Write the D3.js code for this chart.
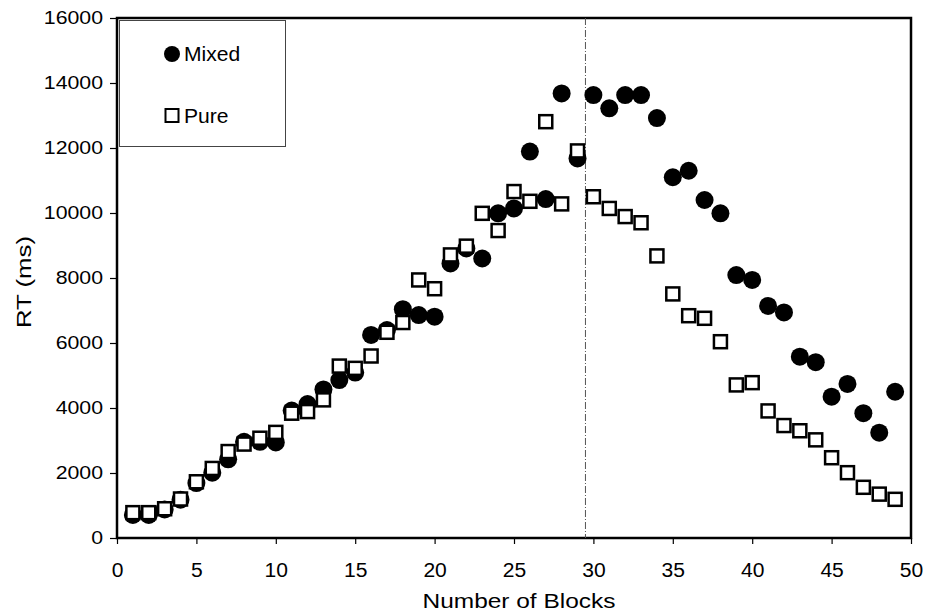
<!DOCTYPE html>
<html lang="en">
<head>
    <meta charset="UTF-8">
    <title></title>
    <style type="text/css">
        html, body { padding:0; margin:0; background:#fff; }
        text { font-family: "Liberation Sans", Arial, sans-serif; fill:#000; }
    </style>
</head>
<body>
<script src="https://d3js.org/d3.v7.min.js"></script>
<script>
    // data
    var blocks = [1, 2, 3, 4, 5, 6, 7, 8, 9, 10, 11, 12, 13, 14, 15, 16, 17, 18, 19, 20,
                  21, 22, 23, 24, 25, 26, 27, 28, 29, 30, 31, 32, 33, 34, 35, 36, 37, 38, 39, 40,
                  41, 42, 43, 44, 45, 46, 47, 48, 49];
    var mixed = [710, 710, 880, 1180, 1690, 2010, 2420, 2960, 2960, 2940,
                 3920, 4120, 4570, 4860, 5090, 6250, 6400, 7040, 6860, 6810,
                 8450, 8910, 8600, 9990, 10140, 11890, 10430, 13680, 11680, 13630,
                 13220, 13630, 13630, 12920, 11100, 11300, 10400, 9990, 8090, 7940,
                 7140, 6940, 5580, 5410, 4350, 4740, 3840, 3240, 4500];
    var pure = [780, 780, 900, 1200, 1730, 2140, 2660, 2890, 3070, 3250,
                3840, 3890, 4250, 5290, 5220, 5600, 6330, 6630, 7940, 7670,
                8710, 8980, 9990, 9460, 10660, 10360, 12810, 10280, 11910, 10500,
                10140, 9890, 9700, 8680, 7510, 6840, 6760, 6040, 4710, 4780,
                3910, 3460, 3300, 3020, 2470, 2010, 1560, 1350, 1190];
    var xTicks = [0, 5, 10, 15, 20, 25, 30, 35, 40, 45, 50];
    var yTicks = [0, 2000, 4000, 6000, 8000, 10000, 12000, 14000, 16000];
    var splitAt = 29.5;

    var chart = {};

    chart.options = {
        width: 925,
        height: 611,
        left: 117,
        right: 911,
        top: 18,
        bottom: 538
    };

    // widen text a little, the original glyphs are stretched
    chart.stretch = function(sel, k) {
        sel.each(function() {
            var w = this.getComputedTextLength();
            d3.select(this).attr('textLength', w * k).attr('lengthAdjust', 'spacingAndGlyphs');
        });
    };

    chart.init = function() {
        var o = this.options;
        this.svg = d3.select('body').append('svg')
          .attr('width', o.width)
          .attr('height', o.height);

        this.x = d3.scaleLinear().domain([0, 50]).range([o.left, o.right]);
        this.y = d3.scaleLinear().domain([0, 16000]).range([o.bottom, o.top]);

        this.renderAxes();
        this.renderSplit();
        this.renderPoints();
        this.renderLegend();
    };

    chart.renderAxes = function() {
        var o = this.options, svg = this.svg;

        var xAxis = d3.axisBottom(this.x).tickValues(xTicks).tickFormat(d3.format('d'))
                      .tickSize(6).tickSizeOuter(0);
        var gx = svg.append('g')
          .attr('transform', 'translate(0,' + o.bottom + ')')
          .call(xAxis);
        gx.selectAll('text').attr('y', 39).attr('dy', 0).attr('font-size', 19.5).attr('font-family', null);
        gx.selectAll('.tick line').attr('stroke', '#000').attr('stroke-width', 1.2);
        gx.select('.domain').remove();
        this.stretch(gx.selectAll('text'), 1.08);

        var yAxis = d3.axisLeft(this.y).tickValues(yTicks).tickFormat(d3.format('d'))
                      .tickSize(7).tickSizeOuter(0);
        var gy = svg.append('g')
          .attr('transform', 'translate(' + o.left + ',0)')
          .call(yAxis);
        gy.selectAll('text').attr('x', -14).attr('font-size', 18.5).attr('font-family', null);
        gy.selectAll('.tick line').attr('stroke', '#000').attr('stroke-width', 1.2);
        gy.select('.domain').remove();
        this.stretch(gy.selectAll('text'), 1.15);

        // plot frame
        svg.append('rect')
          .attr('x', o.left).attr('y', o.top)
          .attr('width', o.right - o.left).attr('height', o.bottom - o.top)
          .attr('fill', 'none').attr('stroke', '#000').attr('stroke-width', 2.5);

        svg.append('text')
          .attr('x', (o.left + o.right) / 2 + 5).attr('y', 608)
          .attr('text-anchor', 'middle').attr('font-size', 21)
          .attr('textLength', 193).attr('lengthAdjust', 'spacingAndGlyphs')
          .text('Number of Blocks');

        svg.append('text')
          .attr('transform', 'translate(31,' + ((o.top + o.bottom) / 2 + 4) + ') rotate(-90)')
          .attr('text-anchor', 'middle').attr('font-size', 21)
          .attr('textLength', 92).attr('lengthAdjust', 'spacingAndGlyphs')
          .text('RT (ms)');
    };

    chart.renderSplit = function() {
        var o = this.options;
        this.svg.append('line')
          .attr('x1', this.x(splitAt)).attr('x2', this.x(splitAt))
          .attr('y1', o.top).attr('y2', o.bottom)
          .attr('stroke', '#555').attr('stroke-width', 1)
          .attr('stroke-dasharray', '7,2,1,2');
    };

    chart.renderPoints = function() {
        var x = this.x, y = this.y;

        this.svg.append('g').selectAll('circle')
          .data(blocks)
          .enter().append('circle')
          .attr('cx', function(d) { return x(d); })
          .attr('cy', function(d, i) { return y(mixed[i]); })
          .attr('r', 9)
          .attr('fill', '#000');

        var s = 13;
        this.svg.append('g').selectAll('rect')
          .data(blocks)
          .enter().append('rect')
          .attr('x', function(d) { return x(d) - s / 2; })
          .attr('y', function(d, i) { return y(pure[i]) - s / 2; })
          .attr('width', s).attr('height', s)
          .attr('fill', '#fff').attr('stroke', '#000').attr('stroke-width', 2.5);
    };

    chart.renderLegend = function() {
        var g = this.svg.append('g');
        g.append('rect')
          .attr('x', 119.5).attr('y', 20.5).attr('width', 166).attr('height', 126)
          .attr('fill', '#fff').attr('stroke', '#444').attr('stroke-width', 1);

        g.append('circle').attr('cx', 172).attr('cy', 54).attr('r', 8).attr('fill', '#000');
        var t1 = g.append('text').attr('x', 184).attr('y', 61).attr('font-size', 19.5).text('Mixed');

        g.append('rect').attr('x', 165.5).attr('y', 109).attr('width', 13).attr('height', 13)
          .attr('fill', '#fff').attr('stroke', '#000').attr('stroke-width', 2);
        var t2 = g.append('text').attr('x', 184).attr('y', 123).attr('font-size', 19.5).text('Pure');

        this.stretch(t1, 1.08);
        this.stretch(t2, 1.08);
    };

    chart.init();
</script>
</body>
</html>
